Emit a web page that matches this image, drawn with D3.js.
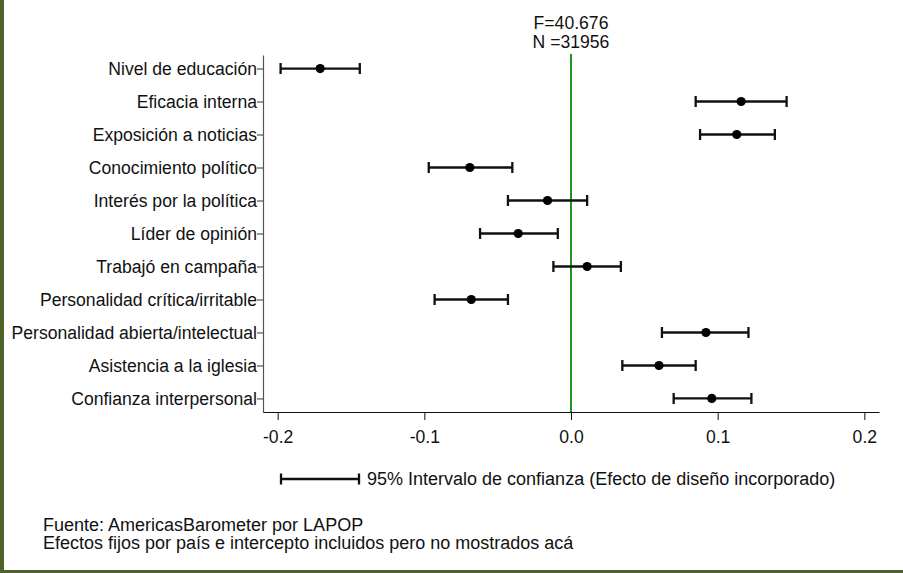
<!DOCTYPE html>
<html>
<head>
<meta charset="utf-8">
<script src="https://cdn.jsdelivr.net/npm/d3@7"></script>
<style>
  html, body { margin: 0; padding: 0; background: #fff; }
  svg { display: block; font-family: "Liberation Sans", Arial, sans-serif; }
</style>
</head>
<body>
<svg id="chart" width="903" height="573"></svg>
<script>
// variables del modelo (de arriba hacia abajo)
const variables = [
  'Nivel de educación', 'Eficacia interna', 'Exposición a noticias',
  'Conocimiento político', 'Interés por la política', 'Líder de opinión',
  'Trabajó en campaña', 'Personalidad crítica/irritable',
  'Personalidad abierta/intelectual', 'Asistencia a la iglesia',
  'Confianza interpersonal'
];
// coeficientes estandarizados y límites del IC 95%
const coef  = [-0.171, 0.116, 0.113, -0.069, -0.016, -0.036, 0.011, -0.068, 0.092, 0.060, 0.096];
const ciLow = [-0.198, 0.085, 0.088, -0.097, -0.043, -0.062, -0.012, -0.093, 0.062, 0.035, 0.070];
const ciHigh = [-0.144, 0.147, 0.139, -0.040, 0.011, -0.009, 0.034, -0.043, 0.121, 0.085, 0.123];
const xTicks = [-0.2, -0.1, 0.0, 0.1, 0.2];
const statF = 'F=40.676';
const statN = 'N =31956';
const notas = [
  'Fuente: AmericasBarometer por LAPOP',
  'Efectos fijos por país e intercepto incluidos pero no mostrados acá'
];

const svg = d3.select('#chart');
const W = 903, H = 573;
const FS = 17.6;
const rows = variables.map((v, i) => ({ v, b: coef[i], lo: ciLow[i], hi: ciHigh[i] }));

const x = d3.scaleLinear().domain([-0.21, 0.21]).range([263, 879]);
const y = d3.scalePoint().domain(variables).range([55, 412]).padding(0.41);

// marco verde
svg.append('rect').attr('x', 0).attr('y', 0).attr('width', 4).attr('height', H).attr('fill', '#4f6228');
svg.append('rect').attr('x', 0).attr('y', H - 3).attr('width', W).attr('height', 3).attr('fill', '#4f6228');

// eje y
const gy = svg.append('g').attr('transform', 'translate(263,0)')
  .call(d3.axisLeft(y).tickSize(6).tickSizeOuter(0).tickPadding(0));
gy.select('.domain').attr('stroke', '#555').attr('stroke-width', 1.2);
gy.selectAll('.tick line').attr('stroke', '#333');
gy.selectAll('.tick text').attr('font-size', FS).attr('fill', '#111')
  .attr('font-family', '"Liberation Sans", Arial, sans-serif');

// eje x
const gx = svg.append('g').attr('transform', 'translate(0,412)')
  .call(d3.axisBottom(x).tickValues(xTicks).tickFormat(d => d.toFixed(1)).tickSize(8).tickSizeOuter(0).tickPadding(11));
gx.select('.domain').attr('stroke', '#111').attr('stroke-width', 1.2);
gx.selectAll('.tick line').attr('stroke', '#111');
gx.selectAll('.tick text').attr('font-size', FS).attr('fill', '#111')
  .attr('font-family', '"Liberation Sans", Arial, sans-serif');

// línea de referencia en cero
svg.append('line')
  .attr('x1', x(0)).attr('x2', x(0)).attr('y1', 54).attr('y2', 412)
  .attr('stroke', '#1e961e').attr('stroke-width', 2);

// intervalos
const g = svg.append('g');
const capH = 5.5, sw = 2.3;
g.selectAll('line.ci').data(rows).join('line').attr('class', 'ci')
  .attr('x1', d => x(d.lo)).attr('x2', d => x(d.hi))
  .attr('y1', d => y(d.v)).attr('y2', d => y(d.v))
  .attr('stroke', '#111').attr('stroke-width', sw);
g.selectAll('line.capl').data(rows).join('line').attr('class', 'capl')
  .attr('x1', d => x(d.lo)).attr('x2', d => x(d.lo))
  .attr('y1', d => y(d.v) - capH).attr('y2', d => y(d.v) + capH)
  .attr('stroke', '#111').attr('stroke-width', sw);
g.selectAll('line.caph').data(rows).join('line').attr('class', 'caph')
  .attr('x1', d => x(d.hi)).attr('x2', d => x(d.hi))
  .attr('y1', d => y(d.v) - capH).attr('y2', d => y(d.v) + capH)
  .attr('stroke', '#111').attr('stroke-width', sw);
g.selectAll('circle').data(rows).join('circle')
  .attr('cx', d => x(d.b)).attr('cy', d => y(d.v)).attr('r', 4.6)
  .attr('fill', '#000');

// estadísticos
svg.append('text').attr('x', x(0)).attr('y', 29).attr('text-anchor', 'middle')
  .attr('font-size', FS).attr('fill', '#111').text(statF);
svg.append('text').attr('x', x(0)).attr('y', 48).attr('text-anchor', 'middle')
  .attr('font-size', FS).attr('fill', '#111').text(statN);

// leyenda
const ly = 479;
svg.append('line').attr('x1', 281).attr('x2', 359).attr('y1', ly).attr('y2', ly)
  .attr('stroke', '#111').attr('stroke-width', sw);
[281, 359].forEach(xx => svg.append('line').attr('x1', xx).attr('x2', xx)
  .attr('y1', ly - capH).attr('y2', ly + capH).attr('stroke', '#111').attr('stroke-width', sw));
svg.append('text').attr('x', 367).attr('y', ly + 6).attr('font-size', 18).attr('fill', '#111')
  .text('95% Intervalo de confianza (Efecto de diseño incorporado)');

// notas
svg.selectAll('text.nota').data(notas).join('text').attr('class', 'nota')
  .attr('x', 43).attr('y', (d, i) => 531 + i * 18)
  .attr('font-size', 18).attr('fill', '#111').text(d => d);
</script>
</body>
</html>
